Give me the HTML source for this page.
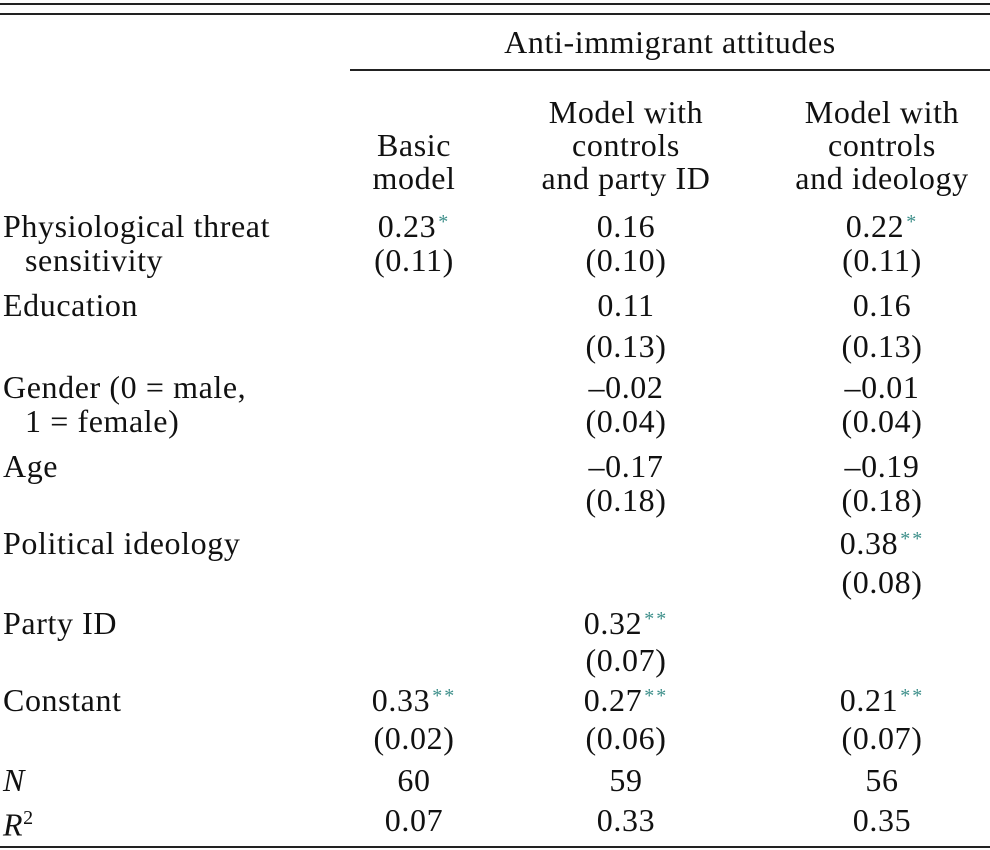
<!DOCTYPE html>
<html><head><meta charset="utf-8"><style>
body{margin:0;background:#fff;}
#t{position:relative;width:990px;height:850px;font-family:"Liberation Serif",serif;font-size:32px;letter-spacing:0.6px;color:#111;overflow:hidden}
.r{position:absolute;height:2px;background:#222}
.c{position:absolute;height:36px;line-height:36px;white-space:nowrap}
.ctr{transform:translateX(-50%)}
.s{color:#3d8f8a;font-size:20px;letter-spacing:2px;padding-left:2px;position:relative;top:-9px}
</style></head><body>
<div id="t">
<div class="r" style="left:0;top:3px;width:990px"></div>
<div class="r" style="left:0;top:13px;width:990px"></div>
<div class="r" style="left:350px;top:69px;width:640px"></div>
<div class="r" style="left:0;top:846px;width:990px"></div>
</div>
<script>
const cols=[414,626,882];
const headers=[["Basic","model"],["Model with","controls","and party ID"],["Model with","controls","and ideology"]];
const labels=[["Physiological threat",226],["  sensitivity",260],["Education",305],["Gender (0 = male,",387],["  1 = female)",421],["Age",466],["Political ideology",543],["Party ID",623],["Constant",700]];
const coefs=[[["0.23","*",226],["(0.11)","",260],["0.33","**",700],["(0.02)","",738],["60","",780],["0.07","",820]],
[["0.16","",226],["(0.10)","",260],["0.11","",305],["(0.13)","",346],["\u20130.02","",387],["(0.04)","",421],["\u20130.17","",466],["(0.18)","",500],["0.32","**",623],["(0.07)","",660],["0.27","**",700],["(0.06)","",738],["59","",780],["0.33","",820]],
[["0.22","*",226],["(0.11)","",260],["0.16","",305],["(0.13)","",346],["\u20130.01","",387],["(0.04)","",421],["\u20130.19","",466],["(0.18)","",500],["0.38","**",543],["(0.08)","",582],["0.21","**",700],["(0.07)","",738],["56","",780],["0.35","",820]]];
const T=document.getElementById('t');
function add(html,x,y,center,name){const d=document.createElement('div');d.className='c'+(center?' ctr':'');d.style.left=x+'px';d.style.top=(y-18)+'px';d.innerHTML=html;


T.appendChild(d);}
add('Anti-immigrant attitudes',670,42,true,'spanner-header');
headers.forEach((h,i)=>{const n=h.length;h.forEach((t,j)=>add(t,cols[i],178-(n-1-j)*33,true,'column-header'));});
labels.forEach(l=>add(l[0].startsWith('  ')?'<span style="padding-left:22px">'+l[0].trim()+'</span>':l[0],3,l[1],false,'row-label'));
add('<i>N</i>',3,780,false,'row-label');
add('<i>R</i><sup style="font-size:20px">2</sup>',3,818,false,'row-label');
coefs.forEach((c,i)=>c.forEach(v=>add(v[0]+(v[1]?'<span class="s">'+v[1]+'</span>':''),cols[i],v[2],true,'cell-value')));
</script>
</body></html>
